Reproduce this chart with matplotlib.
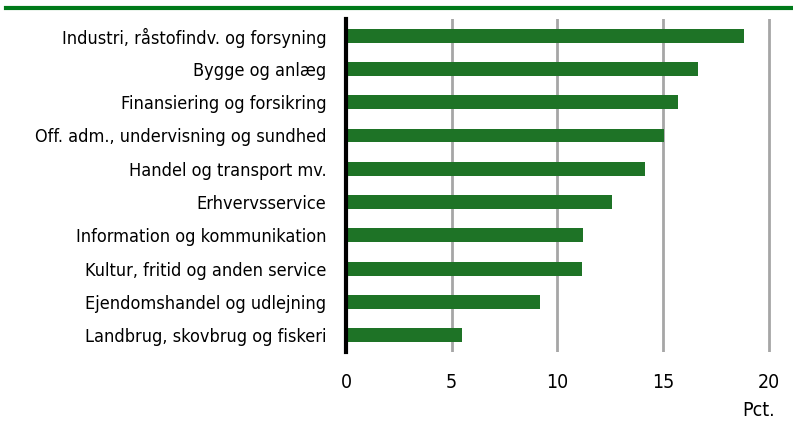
import matplotlib.pyplot as plt
from matplotlib.lines import Line2D

kategorier = [
    "Industri, råstofindv. og forsyning",
    "Bygge og anlæg",
    "Finansiering og forsikring",
    "Off. adm., undervisning og sundhed",
    "Handel og transport mv.",
    "Erhvervsservice",
    "Information og kommunikation",
    "Kultur, fritid og anden service",
    "Ejendomshandel og udlejning",
    "Landbrug, skovbrug og fiskeri",
]
vaerdier = [18.85, 16.65, 15.7, 15.05, 14.15, 12.6, 11.2, 11.15, 9.2, 5.5]
xticks = [0, 5, 10, 15, 20]

plt.rcParams['font.family'] = ['DejaVu Sans']
plt.rcParams['font.stretch'] = 'condensed'

fig = plt.figure(figsize=(7.93, 4.21), dpi=100)
ax = fig.add_axes([0.4363, 0.164, 0.5637, 0.791])

y = list(range(len(kategorier)))
ax.barh(y, vaerdier, height=0.42, color='#1e7326', zorder=3)
ax.set_yticks(y)
ax.set_yticklabels(kategorier, fontsize=13)
ax.set_ylim(9.5, -0.5)
ax.set_xlim(0, 21.15)
ax.set_xticks(xticks)
ax.set_xticklabels([str(t) for t in xticks], fontsize=14)
ax.tick_params(length=0, pad=15)
ax.tick_params(axis='y', pad=14)
ax.grid(axis='x', color='#a6a6a6', linewidth=2, zorder=0)
for s in ['top', 'right', 'bottom']:
    ax.spines[s].set_visible(False)
ax.spines['left'].set_linewidth(3)
ax.spines['left'].set_color('black')
ax.spines['left'].set_zorder(4)

fig.text(0.977, 0.003, "Pct.", fontsize=14, ha='right', va='bottom')
fig.add_artist(Line2D([0.008, 1.0], [0.981, 0.981], color='#007a1a', linewidth=3,
                      transform=fig.transFigure))

fig.savefig("out.png", dpi=100)
